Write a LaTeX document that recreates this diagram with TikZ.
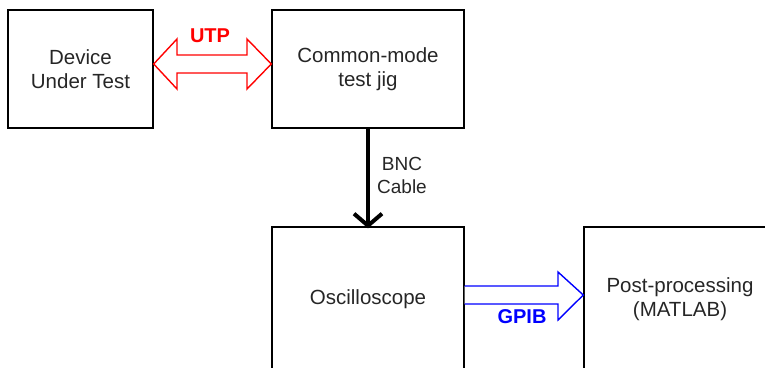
\documentclass[tikz,border=0pt]{standalone}
\usepackage{fontspec}
\setmainfont{Liberation Sans}
\usetikzlibrary{arrows.meta}
\begin{document}
\begin{tikzpicture}[x=1pt,y=-1pt,
  box/.style={draw=black,line width=1.4pt,inner sep=0pt,align=center,
    font=\fontsize{20.5}{24}\selectfont,text=black!85},
  tag/.style={font=\fontsize{20}{24}\selectfont\bfseries}]
\useasboundingbox (0,0) rectangle (765,367);
% boxes
\node[box,minimum width=145pt,minimum height=118pt] (dut) at (80.5,69) {Device\\Under Test};
\node[box,minimum width=192pt,minimum height=118pt] (jig) at (368,69) {Common-mode\\test jig};
\node[box,minimum width=192pt,minimum height=144pt] (osc) at (368,299) {Oscilloscope};
\node[box,minimum width=192pt,minimum height=144pt] (pp) at (680,299) {Post-processing\\(MATLAB)};
\node[font=\fontsize{19}{23}\selectfont,align=center,text=black!85] (bnc) at (402,175) {BNC\\Cable};
% UTP double arrow
\draw[red,line width=1.4pt,fill=white]
  (dut.east |- 0,64) -- (177,39) -- (177,55) -- (247,55) -- (247,39) -- (jig.west |- 0,64)
  -- (247,89) -- (247,73) -- (177,73) -- (177,89) -- cycle;
\node[tag,text=red] (utp) at (210,36) {UTP};
% BNC arrow
\draw[line width=4pt,-{Straight Barb[length=12pt,width=28pt,line width=4pt]}] (jig.south) -- ([yshift=-2pt]osc.north);
% GPIB arrow
\draw[blue,line width=1.4pt,fill=white]
  (osc.east |- 0,286) -- (558,286) -- (558,272) -- (pp.west |- 0,295) -- (558,320) -- (558,304) -- (osc.east |- 0,304);
\node[tag,text=blue] (gpib) at (522,317) {GPIB};
\end{tikzpicture}
\end{document}
